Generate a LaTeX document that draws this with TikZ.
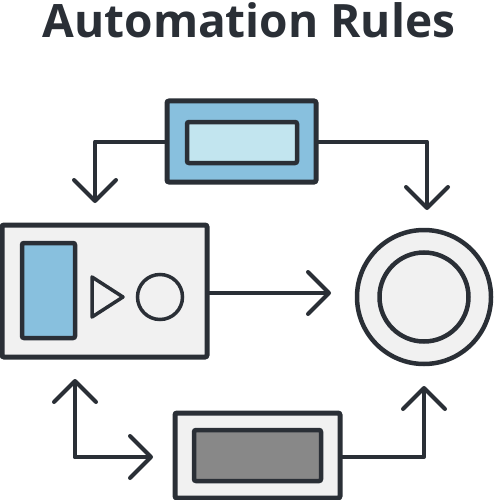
\documentclass[tikz,border=0pt]{standalone}
\usepackage{fontspec}
\setmainfont{Open Sans}
\usetikzlibrary{arrows.meta}
\definecolor{ink}{HTML}{2A2F36}
\definecolor{blueA}{HTML}{88C0DE}
\definecolor{blueB}{HTML}{C2E5EF}
\definecolor{paleG}{HTML}{F1F1F1}
\definecolor{midG}{HTML}{888888}
\tikzset{
  box/.style={draw=ink, line width=5pt, rounded corners=2pt},
  wire/.style={draw=ink, line width=4pt, line join=round, line cap=round,
    -{Straight Barb[length=21pt,width=42pt,line width=4pt,round]}},
  plain/.style={draw=ink, line width=4pt, line join=round, line cap=round},
}
\begin{document}
\begin{tikzpicture}[x=1pt,y=-1pt]
\useasboundingbox (0,0) rectangle (494,500);
% title
\node[font=\bfseries\fontsize{46}{50}\selectfont, text=ink, anchor=base] (title) at (249,38) {Automation Rules};
% top box
\node[box, fill=blueA, minimum width=149pt, minimum height=81pt, inner sep=0pt] (top) at (241.5,141.5) {};
\node[box, line width=4.5pt, fill=blueB, minimum width=110pt, minimum height=41pt, inner sep=0pt] (topin) at (242,142.5) {};
% left box
\node[box, fill=paleG, minimum width=205pt, minimum height=132pt, inner sep=0pt] (left) at (104.5,291) {};
\node[box, line width=4.5pt, fill=blueA, minimum width=53pt, minimum height=95pt, inner sep=0pt] (leftblue) at (48.5,290.5) {};
\draw[plain, line width=3.5pt] (92,277) -- (123,297) -- (92,317) -- cycle;
\node[circle, draw=ink, line width=3.5pt, minimum size=45pt, inner sep=0pt] (leftcirc) at (160,297) {};
% right circle
\node[circle, draw=ink, fill=paleG, line width=4.5pt, minimum size=134pt, inner sep=0pt] (ring) at (424,297) {};
\node[circle, draw=ink, fill=paleG, line width=4.5pt, minimum size=89pt, inner sep=0pt] (ringin) at (424,297) {};
% bottom box
\node[box, fill=paleG, minimum width=165pt, minimum height=85pt, inner sep=0pt] (bot) at (257.5,455.5) {};
\node[box, line width=4.5pt, fill=midG, minimum width=127pt, minimum height=51pt, inner sep=0pt] (botin) at (257.5,455.5) {};
% connector end points
\coordinate (tipL) at (95,203);
\coordinate (tipR) at (427,210);
\coordinate (tipM) at (331,293);
\coordinate (tipU) at (75,379);
\coordinate (tipB) at (153,457);
\coordinate (tipUR) at (424,386);
\coordinate (corner) at (75,457);
% connectors
\draw[wire] (top.west) -| (tipL);
\draw[wire] (top.east) -| (tipR);
\draw[wire] (left.east |- tipM) -- (tipM);
\draw[wire] (corner) -- (tipU);
\draw[wire] (corner) -- (tipB);
\draw[wire] (bot.east |- corner) -| (tipUR);
\end{tikzpicture}
\end{document}
